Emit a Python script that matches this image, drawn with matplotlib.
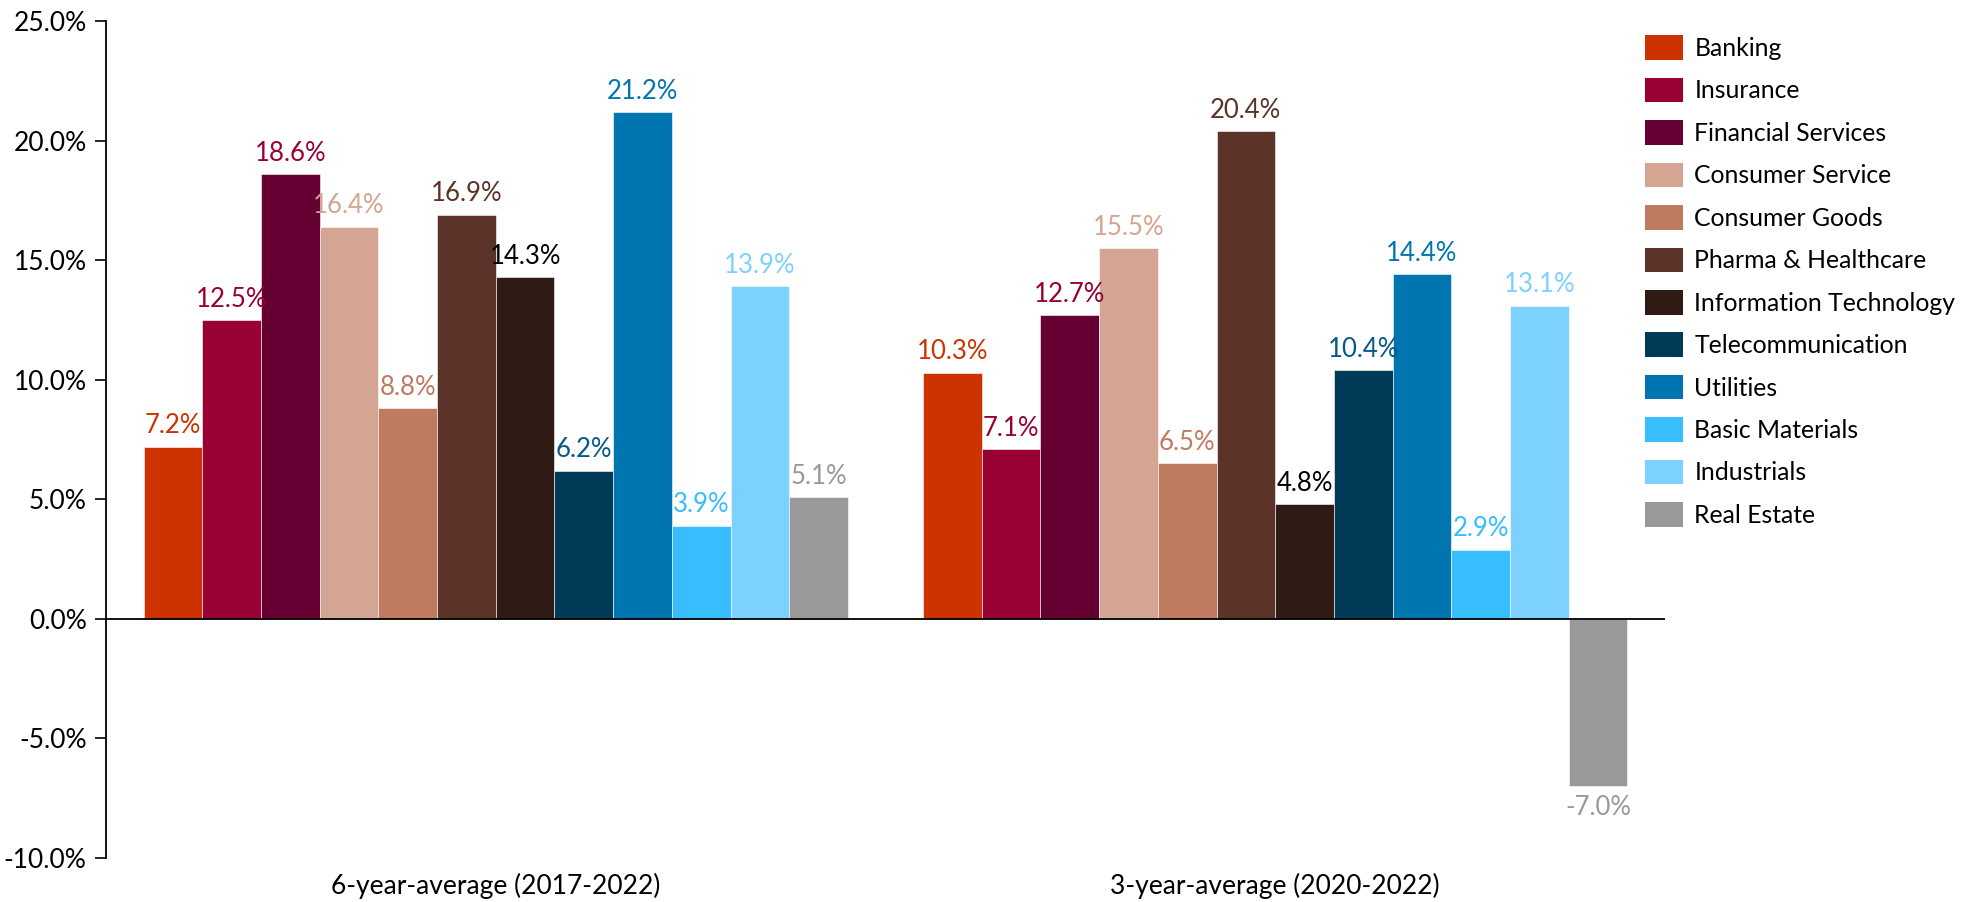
import matplotlib
matplotlib.use("Agg")
import matplotlib.pyplot as plt
from matplotlib.patches import Patch
import numpy as np

plt.rcParams['font.family'] = ['Lato', 'DejaVu Sans']

periods = ["6-year-average (2017-2022)", "3-year-average (2020-2022)"]
sectors = ["Banking", "Insurance", "Financial Services", "Consumer Service",
           "Consumer Goods", "Pharma & Healthcare", "Information Technology",
           "Telecommunication", "Utilities", "Basic Materials", "Industrials",
           "Real Estate"]
six_year = [7.2, 12.5, 18.6, 16.4, 8.8, 16.9, 14.3, 6.2, 21.2, 3.9, 13.9, 5.1]
three_year = [10.3, 7.1, 12.7, 15.5, 6.5, 20.4, 4.8, 10.4, 14.4, 2.9, 13.1, -7.0]
y_ticks = [-10, -5, 0, 5, 10, 15, 20, 25]

bar_colors = ["#CC3300", "#990033", "#660033", "#D3A592", "#BF7A5F", "#5C3328",
              "#2F1A14", "#003A56", "#0075B0", "#38BDFF", "#7DD1FF", "#999999"]
label_colors = ["#CC3300", "#990033", "#990033", "#D3A592", "#BF7A5F", "#5C3328",
                "#000000", "#075A85", "#0075B0", "#38BDFF", "#7DD1FF", "#999999"]

fig = plt.figure(figsize=(19.61, 9.02), dpi=100)
ax = fig.add_axes([0.0541, 0.0488, 0.849 - 0.0541, 0.9767 - 0.0488])

n = len(sectors)
width = 0.0753
group_x = np.arange(len(periods))
values = np.array([six_year, three_year])

for i in range(n):
    xs = group_x + (i - (n - 1) / 2) * width
    vals = values[:, i]
    ax.bar(xs, vals, width=width, color=bar_colors[i], edgecolor="white",
           linewidth=0.4, zorder=2)
    for x, v in zip(xs, vals):
        if v >= 0:
            ax.annotate(f"{v:.1f}%", (x, v), xytext=(0, 6), textcoords="offset points",
                        ha="center", va="bottom", fontsize=18.5, color=label_colors[i])
        else:
            ax.annotate(f"{v:.1f}%", (x, v), xytext=(0, -6), textcoords="offset points",
                        ha="center", va="top", fontsize=18.5, color=label_colors[i])

ax.set_xlim(-0.5, 1.5)
ax.set_ylim(-10, 25)
ax.set_yticks(y_ticks)
ax.set_yticklabels([f"{t:.1f}%" for t in y_ticks], fontsize=19)
ax.tick_params(axis="y", direction="out", length=8, width=1.2, pad=6)
ax.axhline(0, color="black", linewidth=1.3, zorder=3)

ax.set_xticks([])
for x, p in zip(group_x, periods):
    ax.text(x, -0.018, p, transform=ax.get_xaxis_transform(), ha="center",
            va="top", fontsize=19)

for side in ["top", "right", "bottom"]:
    ax.spines[side].set_visible(False)
ax.spines["left"].set_linewidth(1.3)

handles = [Patch(facecolor=c, edgecolor="none") for c in bar_colors]
fig.legend(handles, sectors, loc="upper left", bbox_to_anchor=(0.8275, 0.9855),
           frameon=False, fontsize=17.8, handlelength=1.55, handleheight=1.15,
           handletextpad=0.45, labelspacing=0.72)

fig.savefig("out.png", dpi=100)
